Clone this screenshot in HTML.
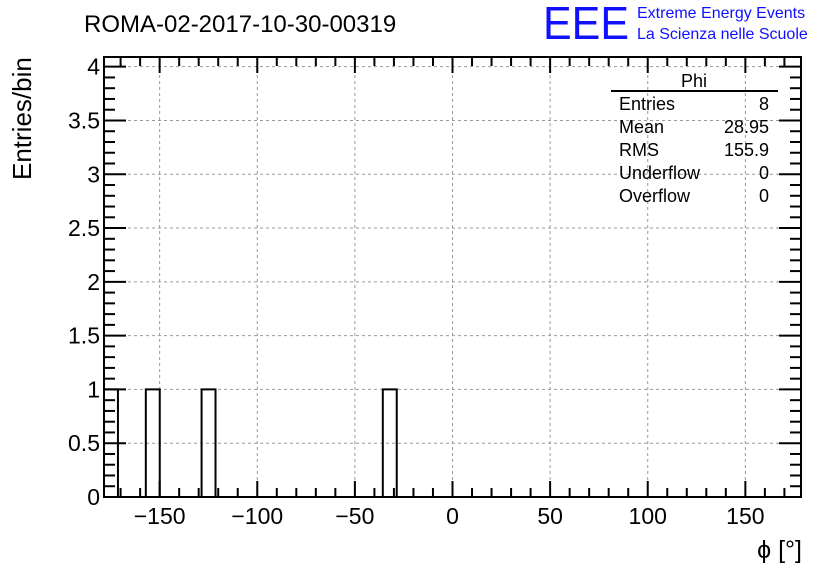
<!DOCTYPE html>
<html><head><meta charset="utf-8"><style>
body{margin:0;background:#fff;}
svg text{font-family:"Liberation Sans",Arial,sans-serif;}
</style></head><body>
<svg id="c" width="836" height="572" xmlns="http://www.w3.org/2000/svg">
<g id="grid"></g><g id="bars"></g><g id="axes"></g>
<text x="84" y="32" font-size="24">ROMA-02-2017-10-30-00319</text>
<text x="543" y="39" font-size="46" fill="#1010ff" textLength="86" lengthAdjust="spacingAndGlyphs">EEE</text>
<text x="637" y="18" font-size="16" fill="#1010ff">Extreme Energy Events</text>
<text x="637" y="39" font-size="16" fill="#1010ff">La Scienza nelle Scuole</text>
<text transform="translate(31,180) rotate(-90)" font-size="26">Entries/bin</text>
<text x="802" y="558" font-size="25" text-anchor="end">ϕ [°]</text>
<g font-size="18">
<text x="694" y="87" text-anchor="middle">Phi</text>
<line x1="611" y1="91" x2="778" y2="91" stroke="#000" stroke-width="2"/>
<text x="619" y="110">Entries</text><text x="769" y="110" text-anchor="end">8</text>
<text x="619" y="133">Mean</text><text x="769" y="133" text-anchor="end">28.95</text>
<text x="619" y="156">RMS</text><text x="769" y="156" text-anchor="end">155.9</text>
<text x="619" y="179">Underflow</text><text x="769" y="179" text-anchor="end">0</text>
<text x="619" y="202">Overflow</text><text x="769" y="202" text-anchor="end">0</text>
</g>
</svg>
<script>
const counts=[1,0,0,1,0,0,0,1,0,0,0,0,0,0,0,0,0,0,0,0,1,0,0,0,0,0,0,0,0,0,0,0,0,0,0,0,0,0,0,0,0,0,0,0,0,0,0,0,0,0];
const xTicks=[-150,-100,-50,0,50,100,150];
const yTicks=[0,0.5,1,1.5,2,2.5,3,3.5,4];
const xMin=-178.5,xMax=178.5,yMin=0,yMax=4.09;
const L=104,R=801,T=57,B=497;
const sx=v=>L+(v-xMin)/(xMax-xMin)*(R-L);
const sy=v=>B-(v-yMin)/(yMax-yMin)*(B-T);
const NS="http://www.w3.org/2000/svg";
function mk(tag,attrs,parent){const e=document.createElementNS(NS,tag);for(const k in attrs)e.setAttribute(k,attrs[k]);parent.appendChild(e);return e;}
const grid=document.getElementById('grid'),bars=document.getElementById('bars'),axes=document.getElementById('axes');
xTicks.forEach(v=>{const l=mk('line',{x1:sx(v),x2:sx(v),y1:T,y2:B,stroke:'#999','stroke-dasharray':'3,3'},grid);

});
yTicks.forEach(v=>{if(v===0)return;const l=mk('line',{x1:L,x2:R,y1:sy(v),y2:sy(v),stroke:'#999','stroke-dasharray':'3,3'},grid);

});
const bw=(xMax-xMin)/counts.length;
let d='M'+sx(xMin)+' '+sy(0);
counts.forEach((c,i)=>{const x0=sx(xMin+i*bw),x1=sx(xMin+(i+1)*bw);d+=' L'+x0+' '+sy(c)+' L'+x1+' '+sy(c);});
d+=' L'+sx(xMax)+' '+sy(0);
const p=mk('path',{d:d,fill:'none',stroke:'#000','stroke-width':2},bars);


const f=mk('rect',{x:L,y:T,width:R-L,height:B-T,fill:'none',stroke:'#000','stroke-width':2},axes);


for(let v=-170;v<=170;v+=10){const big=v%50===0;const h=big?16:9;
mk('line',{x1:sx(v),x2:sx(v),y1:B,y2:B-h,stroke:'#000','stroke-width':2},axes);
mk('line',{x1:sx(v),x2:sx(v),y1:T,y2:T+h,stroke:'#000','stroke-width':2},axes);}
for(let i=0;i<=40;i++){const v=i*0.1;const big=i%5===0;const w=big?22:11;
mk('line',{x1:L,x2:L+w,y1:sy(v),y2:sy(v),stroke:'#000','stroke-width':2},axes);
mk('line',{x1:R,x2:R-w,y1:sy(v),y2:sy(v),stroke:'#000','stroke-width':2},axes);}
xTicks.forEach(v=>{const t=mk('text',{x:sx(v),y:524,'font-size':23,'text-anchor':'middle'},axes);t.textContent=(v<0?'\u2212'+(-v):v);

});
yTicks.forEach(v=>{const t=mk('text',{x:100,y:sy(v)+8,'font-size':23,'text-anchor':'end'},axes);t.textContent=v;

});
</script>
</body></html>
